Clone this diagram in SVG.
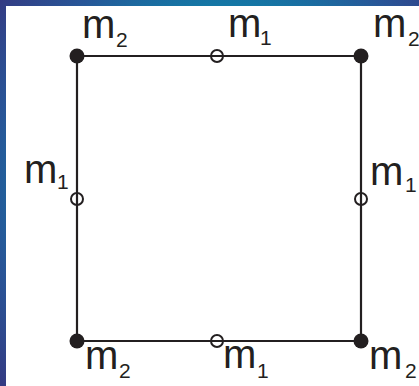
<svg xmlns="http://www.w3.org/2000/svg" width="419" height="386" viewBox="0 0 419 386">
  <defs>
    <radialGradient id="frame" gradientUnits="userSpaceOnUse" cx="230" cy="190" r="300">
      <stop offset="0" stop-color="#0f86b0"/>
      <stop offset="0.62" stop-color="#1477a5"/>
      <stop offset="0.8" stop-color="#285597"/>
      <stop offset="1" stop-color="#343a82"/>
    </radialGradient>
  </defs>
  <style>
    .edge { stroke: #231f20; stroke-width: 2.2; fill: none; }
    .solid { fill: #231f20; }
    .open { fill: none; stroke: #231f20; stroke-width: 2; }
    .lbl { font-family: "Liberation Sans", Arial, sans-serif; font-size: 40px; fill: #231f20; }
    .sub { font-family: "Liberation Sans", Arial, sans-serif; font-size: 21px; fill: #231f20; }
  </style>
  <rect x="0" y="0" width="419" height="386" fill="url(#frame)"/>
  <rect x="6" y="6" width="413" height="380" fill="#ffffff"/>

  <g id="connectors">
    <line class="edge" x1="77" y1="56" x2="361" y2="56"/>
    <line class="edge" x1="361" y1="56" x2="361" y2="341"/>
    <line class="edge" x1="361" y1="341" x2="77" y2="341"/>
    <line class="edge" x1="77" y1="341" x2="77" y2="56"/>
  </g>

  <g id="n-top-left">
    <circle class="solid" cx="77" cy="56" r="7.5"/>
    <text class="lbl" x="82" y="38">m</text><text class="sub" x="116" y="47">2</text>
  </g>
  <g id="n-top-mid">
    <circle class="open" cx="217" cy="56" r="6"/>
    <text class="lbl" x="228" y="37">m</text><text class="sub" x="260" y="45">1</text>
  </g>
  <g id="n-top-right">
    <circle class="solid" cx="361" cy="56" r="7.5"/>
    <text class="lbl" x="373" y="37">m</text><text class="sub" x="408" y="46">2</text>
  </g>
  <g id="n-left-mid">
    <circle class="open" cx="77" cy="199" r="6"/>
    <text class="lbl" x="24" y="183">m</text><text class="sub" x="57" y="189">1</text>
  </g>
  <g id="n-right-mid">
    <circle class="open" cx="361" cy="199" r="6"/>
    <text class="lbl" x="370" y="185">m</text><text class="sub" x="405" y="192">1</text>
  </g>
  <g id="n-bottom-left">
    <circle class="solid" cx="77" cy="341" r="7.5"/>
    <text class="lbl" x="85" y="369">m</text><text class="sub" x="119" y="378">2</text>
  </g>
  <g id="n-bottom-mid">
    <circle class="open" cx="217" cy="341" r="6"/>
    <text class="lbl" x="223" y="368">m</text><text class="sub" x="257" y="378">1</text>
  </g>
  <g id="n-bottom-right">
    <circle class="solid" cx="361" cy="341" r="7.5"/>
    <text class="lbl" x="369" y="369">m</text><text class="sub" x="405" y="378">2</text>
  </g>
</svg>
